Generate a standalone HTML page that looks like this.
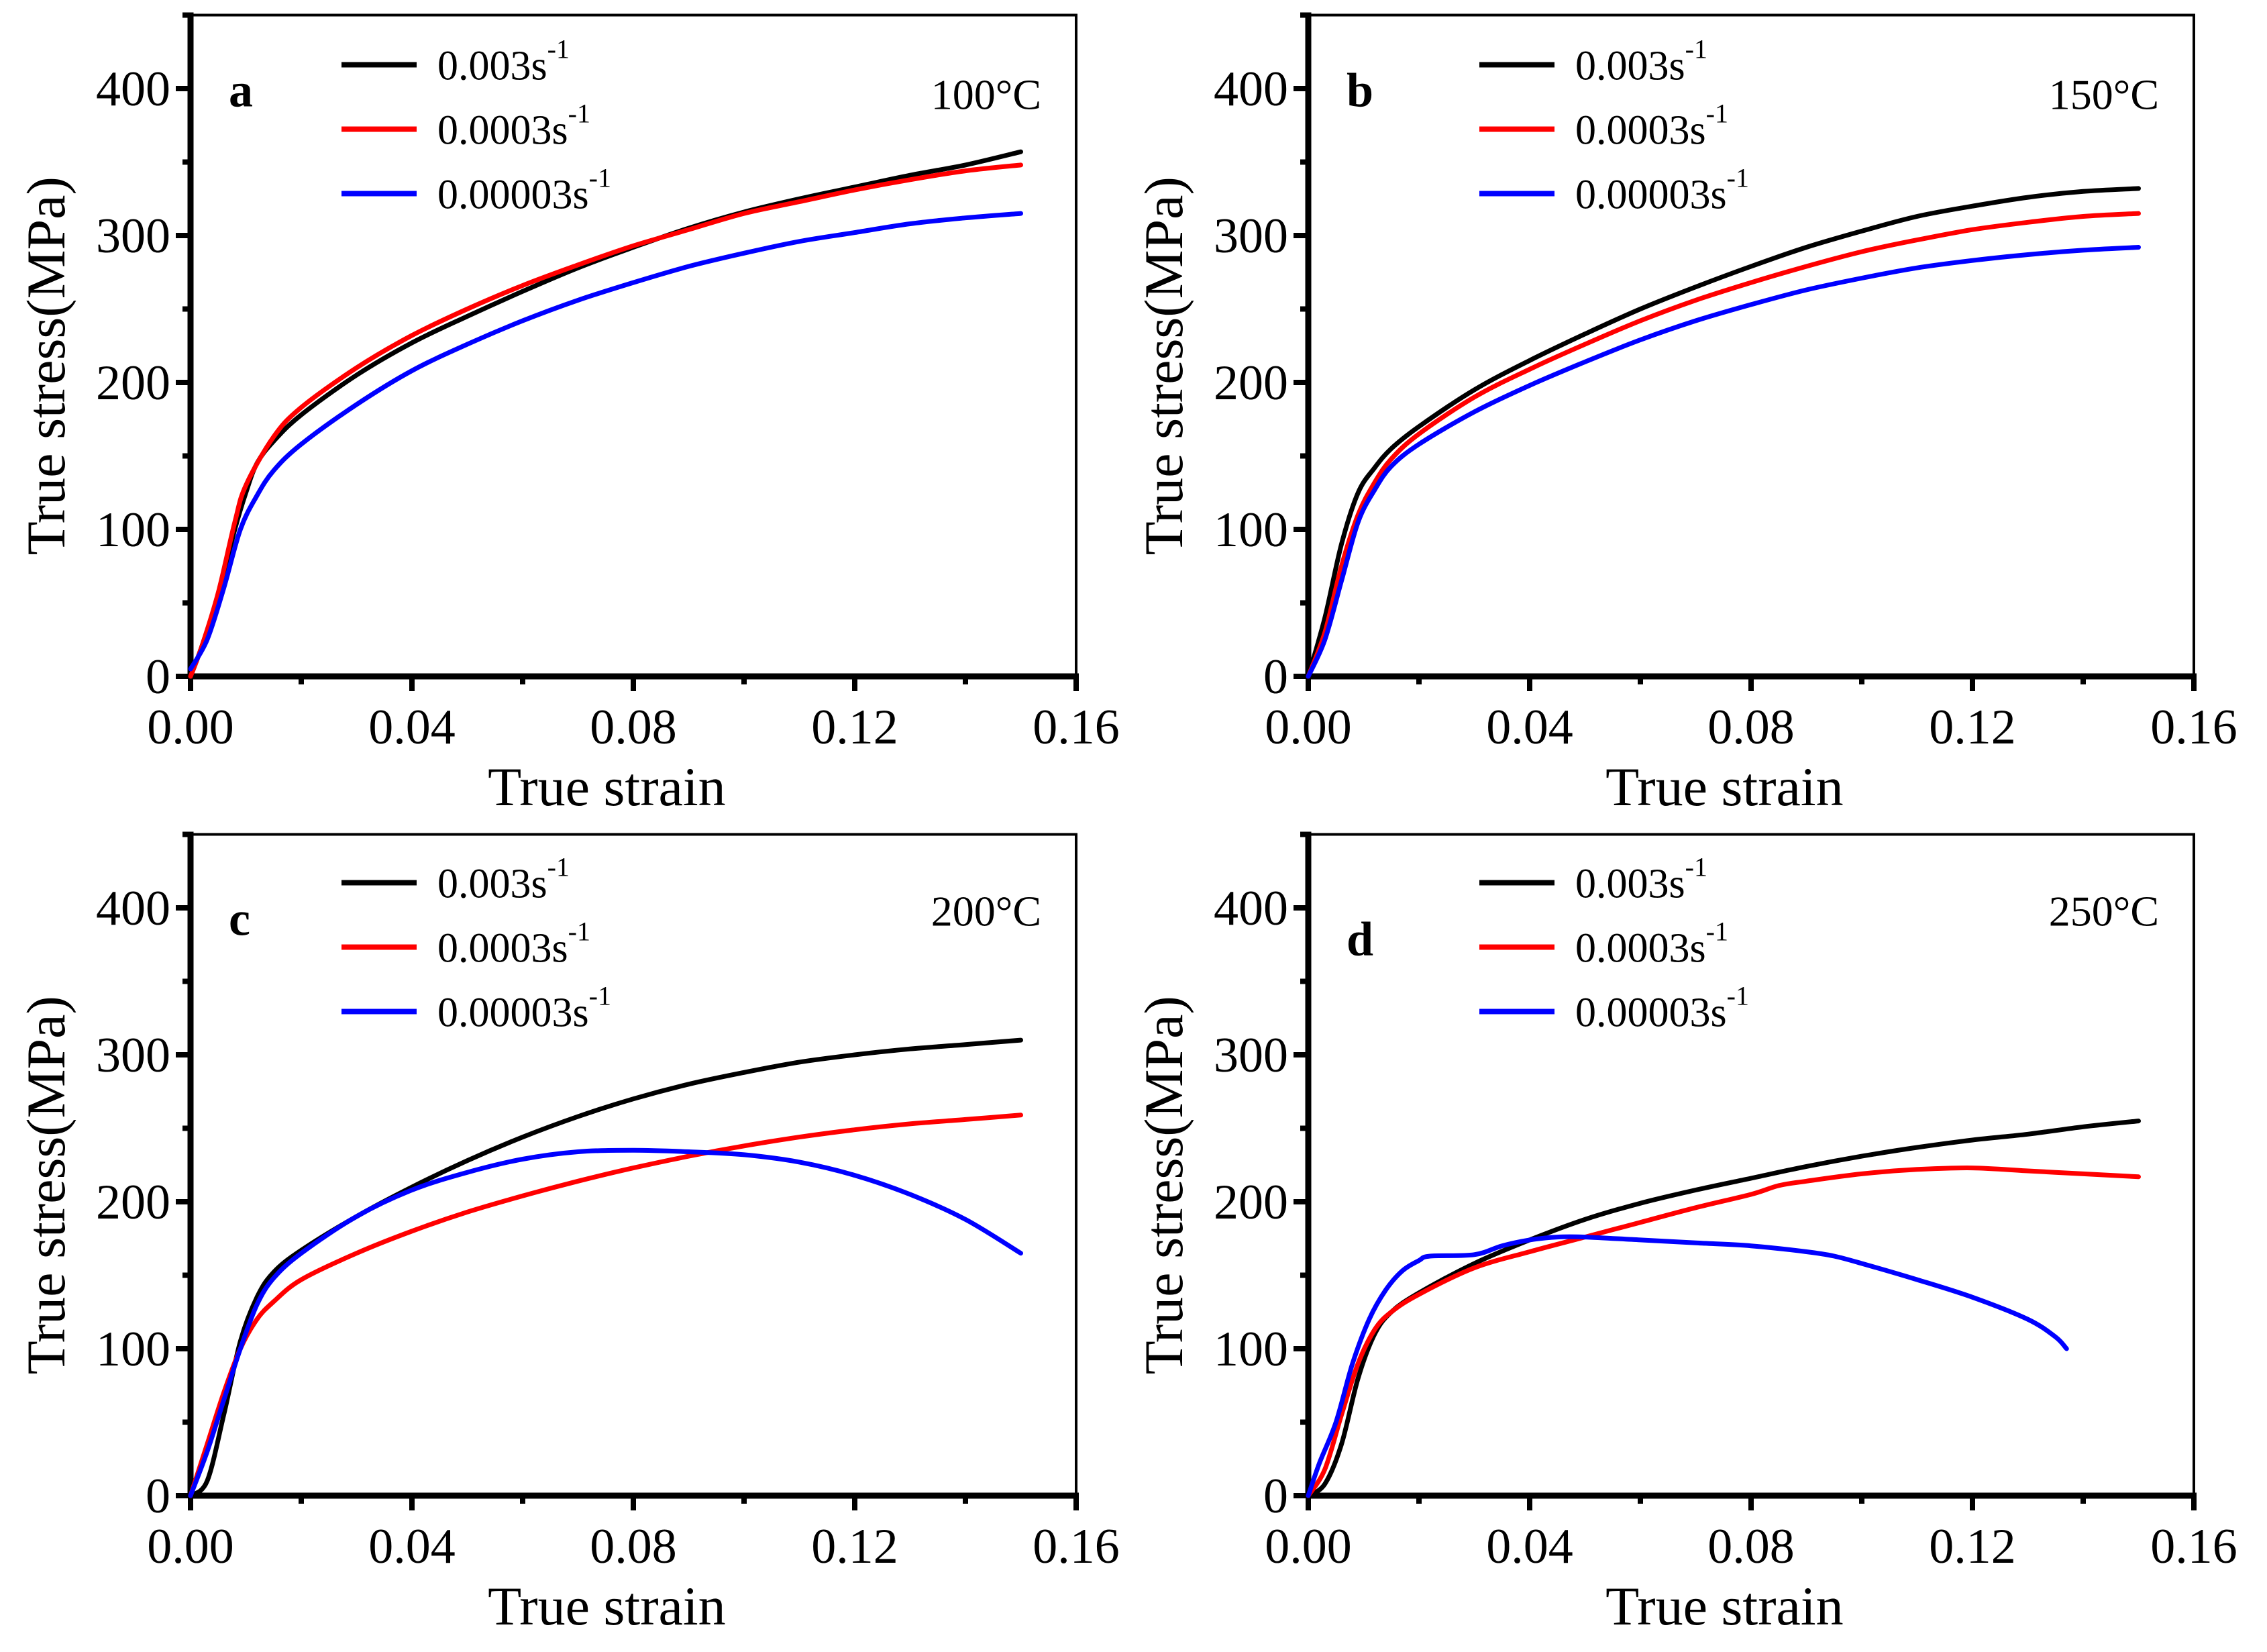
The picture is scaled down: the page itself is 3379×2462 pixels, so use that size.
<!DOCTYPE html>
<html><head><meta charset="utf-8">
<style>
html,body{margin:0;padding:0;background:#fff;}
svg{display:block;font-family:"Liberation Serif",serif;}
</style></head>
<body>
<svg id="fig" width="3379" height="2462" viewBox="0 0 3379 2462" xmlns="http://www.w3.org/2000/svg"></svg>
<script>
const xTicks=[0,0.04,0.08,0.12,0.16];
const xTickLabels=["0.00","0.04","0.08","0.12","0.16"];
const yTicks=[0,100,200,300,400];
const yTickLabels=["0","100","200","300","400"];
const seriesNames=["0.003","0.0003","0.00003"];
const seriesColors=["#000","#f00","#00f"];
const panelLetters=["a","b","c","d"];
const panelTemps=["100°C","150°C","200°C","250°C"];
const aBlack=[[0,0],[.002,20],[.005,55],[.008,100],[.01,125],[.012,145],[.015,160],[.02,178],[.03,205],[.04,227],[.05,245],[.06,262],[.07,278],[.08,292],[.09,305],[.1,316],[.11,325],[.12,333],[.13,341],[.14,348],[.15,357]];
const aRed=[[0,0],[.002,20],[.005,57],[.008,105],[.01,130],[.015,163],[.02,183],[.03,210],[.04,232],[.05,250],[.06,266],[.07,280],[.08,293],[.09,304],[.1,315],[.11,323],[.12,331],[.13,338],[.14,344],[.15,348]];
const aBlue=[[0,5],[.003,25],[.006,60],[.009,100],[.012,123],[.015,140],[.02,158],[.03,185],[.04,208],[.05,226],[.06,242],[.07,256],[.08,268],[.09,279],[.1,288],[.11,296],[.12,302],[.13,308],[.14,312],[.15,315]];
const bBlack=[[0,0],[.003,40],[.006,90],[.009,125],[.012,142],[.015,155],[.02,170],[.03,195],[.04,215],[.05,233],[.06,250],[.07,265],[.08,279],[.09,292],[.1,303],[.11,313],[.12,320],[.13,326],[.14,330],[.15,332]];
const bRed=[[0,0],[.003,30],[.006,75],[.009,110],[.012,132],[.015,148],[.02,165],[.03,190],[.04,209],[.05,226],[.06,242],[.07,256],[.08,268],[.09,279],[.1,289],[.11,297],[.12,304],[.13,309],[.14,313],[.15,315]];
const bBlue=[[0,0],[.003,25],[.006,65],[.009,105],[.012,127],[.015,143],[.02,158],[.03,180],[.04,198],[.05,214],[.06,229],[.07,242],[.08,253],[.09,263],[.1,271],[.11,278],[.12,283],[.13,287],[.14,290],[.15,292]];
const cBlack=[[0,0],[.003,10],[.006,55],[.009,105],[.012,135],[.015,152],[.02,167],[.03,190],[.04,210],[.05,228],[.06,244],[.07,258],[.08,270],[.09,280],[.1,288],[.11,295],[.12,300],[.13,304],[.14,307],[.15,310]];
const cRed=[[0,0],[.003,35],[.006,70],[.009,100],[.012,120],[.015,132],[.02,147],[.03,165],[.04,180],[.05,193],[.06,204],[.07,214],[.08,223],[.09,231],[.1,238],[.11,244],[.12,249],[.13,253],[.14,256],[.15,259]];
const cBlue=[[0,0],[.003,30],[.006,65],[.009,100],[.012,130],[.015,148],[.02,165],[.03,190],[.04,208],[.05,220],[.06,229],[.07,234],[.08,235],[.09,234],[.1,232],[.11,227],[.12,218],[.13,205],[.14,188],[.15,165]];
const dBlack=[[0,0],[.003,8],[.006,35],[.009,80],[.012,110],[.015,125],[.02,138],[.03,158],[.04,174],[.05,188],[.06,199],[.07,208],[.08,216],[.09,224],[.1,231],[.11,237],[.12,242],[.13,246],[.14,251],[.15,255]];
const dRed=[[0,0],[.003,18],[.006,55],[.009,90],[.012,113],[.015,125],[.02,137],[.03,155],[.04,166],[.05,176],[.06,186],[.07,196],[.08,205],[.085,211],[.09,214],[.1,219],[.11,222],[.12,223],[.13,221],[.14,219],[.15,217]];
const dBlue=[[0,0],[.002,22],[.005,50],[.008,90],[.011,120],[.014,140],[.017,153],[.02,160],[.022,163],[.03,164],[.035,170],[.04,174],[.045,176],[.05,176],[.06,174],[.07,172],[.08,170],[.09,166],[.095,163],[.1,158],[.11,147],[.12,135],[.13,120],[.135,108],[.137,100]];
const panelSeries=[[aBlack,aRed,aBlue],[bBlack,bRed,bBlue],[cBlack,cRed,cBlue],[dBlack,dRed,dBlue]];

const NS="http://www.w3.org/2000/svg";
const svg=document.getElementById('fig');
function mk(tag,attrs,parent){const e=document.createElementNS(NS,tag);for(const k in attrs)e.setAttribute(k,attrs[k]);parent.appendChild(e);return e;}
function smooth(pts){
  let d='M'+pts[0][0].toFixed(1)+','+pts[0][1].toFixed(1);
  for(let i=0;i<pts.length-1;i++){
    const p0=pts[i-1]||pts[i],p1=pts[i],p2=pts[i+1],p3=pts[i+2]||p2;
    const c1=[p1[0]+(p2[0]-p0[0])/6,p1[1]+(p2[1]-p0[1])/6];
    const c2=[p2[0]-(p3[0]-p1[0])/6,p2[1]-(p3[1]-p1[1])/6];
    d+=' C'+c1.map(v=>v.toFixed(1)).join(',')+' '+c2.map(v=>v.toFixed(1)).join(',')+' '+p2.map(v=>v.toFixed(1)).join(',');
  }
  return d;
}
const panels=[{x0:284,y0:1008},{x0:1950,y0:1008},{x0:284,y0:2229},{x0:1950,y0:2229}];
const letterY=[136,136,150,180];
const W=1320, PX=219;
panels.forEach((p,i)=>{
  const g=mk('g',{},svg);
  
  
  const sx=v=>p.x0+v/0.16*W;
  const sy=v=>p.y0-v/100*PX;
  const top=sy(450);
  const fr=mk('rect',{x:p.x0,y:top,width:W,height:p.y0-top,fill:'none',stroke:'#000','stroke-width':4},g);
  
  
  const ya=mk('line',{x1:p.x0,y1:top-4,x2:p.x0,y2:p.y0+4,stroke:'#000','stroke-width':9},g);
  
  
  const xa=mk('line',{x1:p.x0-4,y1:p.y0,x2:p.x0+W+4,y2:p.y0,stroke:'#000','stroke-width':9},g);
  
  
  for(let v=0;v<=450;v+=50){
    const major=v%100===0;
    mk('line',{x1:p.x0,y1:sy(v),x2:p.x0-(major?22:12),y2:sy(v),stroke:'#000','stroke-width':8},g);
  }
  yTicks.forEach((v,k)=>{
    const t=mk('text',{x:p.x0-30,y:sy(v)+25,'text-anchor':'end','font-size':74},g);
    t.textContent=yTickLabels[k];
    
    
  });
  for(let v=0;v<=0.1601;v+=0.02){
    const major=Math.round(v*100)%4===0;
    mk('line',{x1:sx(v),y1:p.y0,x2:sx(v),y2:p.y0+(major?22:12),stroke:'#000','stroke-width':8},g);
  }
  xTicks.forEach((v,k)=>{
    const t=mk('text',{x:sx(v),y:p.y0+100,'text-anchor':'middle','font-size':74},g);
    t.textContent=xTickLabels[k];
    
    
  });
  const xt=mk('text',{x:p.x0+W*0.47,y:p.y0+192,'text-anchor':'middle','font-size':82},g);
  xt.textContent='True strain';
  
  
  const cy=(top+p.y0)/2+30;
  const yt=mk('text',{x:0,y:0,'text-anchor':'middle','font-size':82,transform:`translate(${p.x0-188},${cy}) rotate(-90)`},g);
  yt.textContent='True stress(MPa)';
  
  
  panelSeries[i].forEach((s,k)=>{
    const d=smooth(s.map(pt=>[sx(pt[0]),sy(pt[1])]));
    const path=mk('path',{d:d,fill:'none',stroke:seriesColors[k],'stroke-width':7,'stroke-linejoin':'round','stroke-linecap':'round'},g);
    
    
  });
  const lx=p.x0+(i%2===0?225:255);
  const ly=top+(i<2?74:72);
  seriesNames.forEach((n,k)=>{
    const yy=ly+k*96;
    const le=mk('g',{},g);
    
    
    mk('line',{x1:lx,y1:yy,x2:lx+112,y2:yy,stroke:seriesColors[k],'stroke-width':8},le);
    const t=mk('text',{x:lx+143,y:yy+22,'font-size':62},le);
    t.textContent=n+'s';
    const sup=mk('tspan',{dy:-32,'font-size':40},t);
    sup.textContent='-1';
  });
  const lt=mk('text',{x:p.x0+57,y:top+letterY[i],'font-size':72,'font-weight':'bold'},g);
  lt.textContent=panelLetters[i];
  
  
  const tt=mk('text',{x:p.x0+W-52,y:top+(i<2?140:136),'text-anchor':'end','font-size':64},g);
  tt.textContent=panelTemps[i];
  
  
});
</script>
</body></html>
